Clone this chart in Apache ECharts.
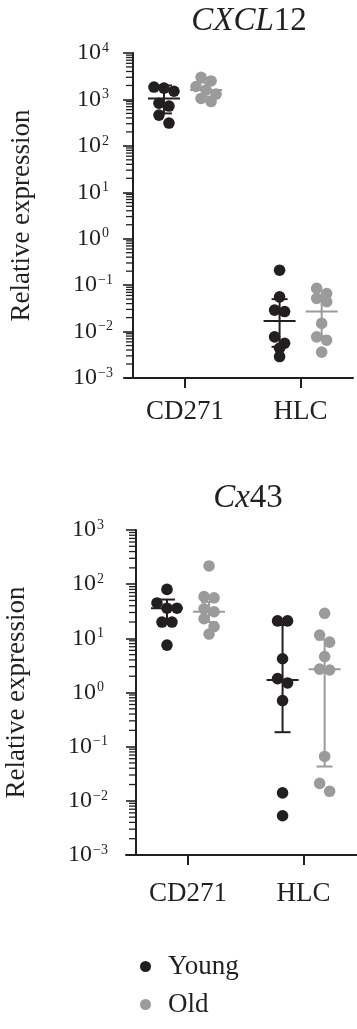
<!DOCTYPE html>
<html><head><meta charset="utf-8">
<script src="https://cdn.jsdelivr.net/npm/echarts@6/dist/echarts.min.js"></script>
<style>html,body{margin:0;padding:0;background:#fff}#c{width:357px;height:1029px}</style>
</head><body><div id="c"></div>
<script>
// ---- data ----
const categories = ['CD271', 'HLC'];
const groupNames = ['Young', 'Old'];
const yTicksCxcl12 = [0.001, 0.01, 0.1, 1, 10, 100, 1000, 10000];
const yTicksCx43 = [0.001, 0.01, 0.1, 1, 10, 100, 1000];

// CXCL12 individual values
const cxcl12YoungCD271 = [1850, 1750, 1500, 830, 720, 460, 310];
const cxcl12YoungHLC = [0.21, 0.056, 0.029, 0.027, 0.0077, 0.0056, 0.0044, 0.0029];
const cxcl12OldCD271 = [3000, 2500, 1900, 1600, 1300, 1050, 900];
const cxcl12OldHLC = [0.085, 0.066, 0.052, 0.044, 0.015, 0.0077, 0.0065, 0.0036];
// CXCL12 summary (per category): centre line, lower bar, upper bar
const cxcl12YoungMid = [1050, 0.0168];
const cxcl12YoungLow = [500, 0.0047];
const cxcl12YoungHigh = [2000, 0.05];
const cxcl12OldMid = [1600, 0.027];
const cxcl12OldLow = [1150, 0.008];
const cxcl12OldHigh = [2300, 0.06];

// Cx43 individual values
const cx43YoungCD271 = [80, 45, 36, 36, 20, 20, 7.5];
const cx43YoungHLC = [21, 21, 4.2, 1.8, 1.5, 0.71, 0.014, 0.0053];
const cx43OldCD271 = [217, 59, 56, 35, 31, 23, 16.5, 12];
const cx43OldHLC = [29, 11.5, 8.5, 4.6, 2.7, 2.6, 0.066, 0.021, 0.015];
// Cx43 summary
const cx43YoungMid = [36, 1.7];
const cx43YoungLow = [20, 0.185];
const cx43YoungHigh = [52, 17.7];
const cx43OldMid = [31, 2.7];
const cx43OldLow = [20, 0.043];
const cx43OldHigh = [47, 9.5];

// ---- layout / style ----
const catPos = [0.45, 1.45];          // where each category sits on the x scale
const FONT = 'Liberation Serif';
const INK = '#231f20';
const GREY = '#9b9b9b';
const colors = {Young: INK, Old: GREY};
const groupShift = {Young: -0.182, Old: 0.182};
const DOT_R = 5.8, BIN_H = 8, STEP = 10;

function supLabel(v) {
  const e = Math.round(Math.log10(v));
  return '{b|10}{s|' + (e < 0 ? '\u2212' + (-e) : e) + '}';
}

function dotSeries(name, idx, byCat) {
  const data = [];
  byCat.forEach((vals, c) => vals.forEach((v, k) => data.push([c, v, k])));
  return {
    type: 'custom', name, xAxisIndex: idx, yAxisIndex: idx, z: 3,
    itemStyle: {color: colors[name]},
    data,
    renderItem(params, api) {
      const c = api.value(0), v = api.value(1), k = api.value(2);
      const vals = byCat[c];
      const cx = api.coord([catPos[c] + groupShift[name], v])[0];
      const ys = vals.map(u => api.coord([catPos[c], u])[1]);
      const order = ys.map((y, i) => i).sort((a, b) => ys[a] - ys[b]);
      const bins = []; let cur = [order[0]];
      for (let i = 1; i < order.length; i++) {
        if (ys[order[i]] - ys[cur[0]] < BIN_H) cur.push(order[i]);
        else { bins.push(cur); cur = [order[i]]; }
      }
      bins.push(cur);
      let off = 0;
      bins.forEach(b => { const p = b.indexOf(k); if (p >= 0) off = (p - (b.length - 1) / 2) * STEP; });
      return {type: 'circle', shape: {cx: cx + off, cy: ys[k], r: DOT_R}, style: {fill: colors[name]}};
    }
  };
}

function statSeries(name, idx, mid, low, high) {
  return {
    type: 'custom', name, xAxisIndex: idx, yAxisIndex: idx, z: 4,
    itemStyle: {color: colors[name]},
    data: mid.map((m, c) => [c, m, low[c], high[c]]),
    renderItem(params, api) {
      const x = catPos[api.value(0)] + groupShift[name];
      const pm = api.coord([x, api.value(1)]);
      const pl = api.coord([x, api.value(2)]);
      const ph = api.coord([x, api.value(3)]);
      const st = {stroke: colors[name], lineWidth: 2};
      return {type: 'group', children: [
        {type: 'line', shape: {x1: pm[0] - 16, y1: pm[1], x2: pm[0] + 16, y2: pm[1]}, style: st},
        {type: 'line', shape: {x1: pl[0], y1: pl[1], x2: ph[0], y2: ph[1]}, style: st},
        {type: 'line', shape: {x1: pl[0] - 8, y1: pl[1], x2: pl[0] + 8, y2: pl[1]}, style: st},
        {type: 'line', shape: {x1: ph[0] - 8, y1: ph[1], x2: ph[0] + 8, y2: ph[1]}, style: st}
      ]};
    }
  };
}

// minor log ticks (2..9 in each decade), drawn on the y axis line (x = 0)
function minorTickSeries(idx, ticks) {
  const vals = [];
  for (let i = 0; i < ticks.length - 1; i++) for (let m = 2; m <= 9; m++) vals.push([0, ticks[i] * m]);
  return {
    type: 'custom', xAxisIndex: idx, yAxisIndex: idx, silent: true, z: 2,
    data: vals,
    renderItem(params, api) {
      const p = api.coord([0, api.value(1)]);
      return {type: 'line', shape: {x1: p[0] - 7, y1: p[1], x2: p[0], y2: p[1]}, style: {stroke: INK, lineWidth: 1.3}};
    }
  };
}

function yAxisCfg(idx, ticks, margin, gap) {
  return {
    type: 'log', gridIndex: idx, min: ticks[0], max: ticks[ticks.length - 1],
    splitNumber: ticks.length - 1,
    name: 'Relative expression', nameLocation: 'middle', nameRotate: 90, nameGap: gap,
    nameTextStyle: {fontFamily: FONT, fontSize: 27, color: INK},
    axisLine: {show: true, onZero: true, lineStyle: {color: INK, width: 2}},
    axisTick: {show: true, length: 10, lineStyle: {color: INK, width: 1.6}},
    splitLine: {show: false},
    axisLabel: {
      margin, align: 'center', formatter: supLabel,
      rich: {
        b: {fontFamily: FONT, fontSize: 24, color: INK},
        s: {fontFamily: FONT, fontSize: 14, color: INK, verticalAlign: 'top', padding: [0, 0, 8, 1]}
      }
    }
  };
}

function xAxisCfg(idx, min, max, labelMargin) {
  return {
    type: 'value', gridIndex: idx, min, max,
    axisLine: {show: true, onZero: false, lineStyle: {color: INK, width: 2}},
    axisTick: {show: true, length: 10, customValues: catPos, lineStyle: {color: INK, width: 2}},
    splitLine: {show: false},
    axisLabel: {
      customValues: catPos, margin: labelMargin,
      formatter: v => categories[catPos.indexOf(v)] || categories[Math.round(v - catPos[0])],
      fontFamily: FONT, fontSize: 27, color: INK
    }
  };
}

const titleRich = {
  i: {fontFamily: FONT, fontStyle: 'italic', fontWeight: 'normal', fontSize: 33, color: INK},
  n: {fontFamily: FONT, fontWeight: 'normal', fontSize: 33, color: INK}
};

const chart = echarts.init(document.getElementById('c'), null, {renderer: 'canvas'});
chart.setOption({
  backgroundColor: '#fff',
  animation: false,
  title: [
    {text: '{i|CXCL}{n|12}', left: 244, top: 0, textAlign: 'center',
     textStyle: {fontWeight: 'normal', rich: titleRich}},
    {text: '{i|Cx}{n|43}', left: 243, top: 477, textAlign: 'center',
     textStyle: {fontWeight: 'normal', rich: titleRich}}
  ],
  legend: {
    orient: 'vertical', left: 135, top: 948, itemGap: 11,
    itemWidth: 11, itemHeight: 11,
    data: groupNames.map(n => ({name: n, icon: 'circle'})),
    textStyle: {fontFamily: FONT, fontSize: 27, color: INK, padding: [0, 0, 0, 12]}
  },
  grid: [
    {left: 125, top: 53, width: 228, height: 325, outerBoundsMode: 'none', containLabel: false},
    {left: 126, top: 530, width: 231, height: 325, outerBoundsMode: 'none', containLabel: false}
  ],
  xAxis: [xAxisCfg(0, -0.069, 1.903, 20), xAxisCfg(1, -0.0865, 1.912, 25)],
  yAxis: [yAxisCfg(0, yTicksCxcl12, 32, 90), yAxisCfg(1, yTicksCx43, 38, 96)],
  series: [
    minorTickSeries(0, yTicksCxcl12),
    minorTickSeries(1, yTicksCx43),
    dotSeries('Young', 0, [cxcl12YoungCD271, cxcl12YoungHLC]),
    dotSeries('Old', 0, [cxcl12OldCD271, cxcl12OldHLC]),
    statSeries('Young', 0, cxcl12YoungMid, cxcl12YoungLow, cxcl12YoungHigh),
    statSeries('Old', 0, cxcl12OldMid, cxcl12OldLow, cxcl12OldHigh),
    dotSeries('Young', 1, [cx43YoungCD271, cx43YoungHLC]),
    dotSeries('Old', 1, [cx43OldCD271, cx43OldHLC]),
    statSeries('Young', 1, cx43YoungMid, cx43YoungLow, cx43YoungHigh),
    statSeries('Old', 1, cx43OldMid, cx43OldLow, cx43OldHigh)
  ]
});
</script></body></html>
